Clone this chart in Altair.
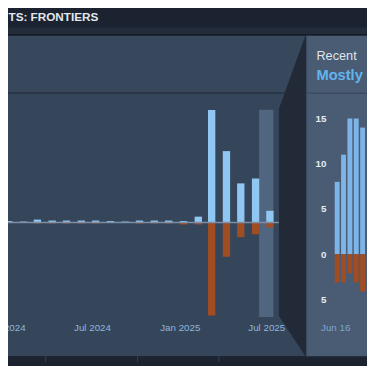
import altair as alt
import pandas as pd

# ---------------- data ----------------
# monthly review histogram (left panel)
months = ["2024-01-01", "2024-02-01", "2024-03-01", "2024-04-01", "2024-05-01",
          "2024-06-01", "2024-07-01", "2024-08-01", "2024-09-01", "2024-10-01",
          "2024-11-01", "2024-12-01", "2025-01-01", "2025-02-01", "2025-03-01",
          "2025-04-01", "2025-05-01", "2025-06-01", "2025-07-01"]
monthly_up = [1.5, 1, 3, 2, 2, 2, 2, 1.5, 1, 2, 2, 2, 1.5, 6, 115, 73, 40, 45, 12]
monthly_down = [0, 0, 1, 1, 1, 1, 1, 0, 0, 1, 1, 1, 2, 2, 95, 35, 15, 12, 5]
axis_months = ["2024-01-01", "2024-07-01", "2025-01-01", "2025-07-01"]

# recent daily reviews (right panel)
recent_days = ["2025-06-16", "2025-06-17", "2025-06-18", "2025-06-19", "2025-06-20"]
recent_up = [8, 11, 15, 15, 14]
recent_down = [3, 3, 2, 3, 4]
recent_ticks = [-5, 0, 5, 10, 15]
recent_end = "2025-07-16"

title_text = "TS: FRONTIERS"
recent_label = "Recent"
recent_rating = "Mostly"


def dt(s):
    y, m, d = map(int, s.split("-"))
    return alt.DateTime(year=y, month=m, date=d, utc=True)


one = pd.DataFrame({"k": [0]})


def box(x1, x2, y1, y2, color):
    return alt.Chart(one).mark_rect(color=color, strokeWidth=0).encode(
        x=alt.value(x1), x2=alt.value(x2), y=alt.value(y1), y2=alt.value(y2))


# ---------------- decoration ----------------
decor = [
    box(-8, 367, 16, 22.5, "#232c3a"),
    box(-8, 367, 22.5, 24.5, "#161b25"),
    box(-8, 310, 24.5, 82, "#37475c"),
    box(-8, 310, 82, 83.5, "#2a3444"),
    box(-8, 310, 83.5, 352, "#35455a"),
    box(-8, 367, 352, 358, "#1d2330"),
    box(38, 39, 352, 358, "#34425a"),
    box(132, 133, 352, 358, "#34425a"),
    box(215, 216, 352, 358, "#34425a"),
]

# ---------------- left chart ----------------
left_df = pd.DataFrame({"month": months, "up": monthly_up, "down": monthly_down})

x_left = alt.X(
    "month:T",
    scale=alt.Scale(type="utc", domain=[dt(months[0]), dt(months[-1])], range=[-8, 269]),
    axis=alt.Axis(orient="bottom", offset=-40.5, values=[dt(m) for m in axis_months],
                  format="%b %Y", labelColor="#8fb6dc", labelFontSize=10, labelFont="Arial",
                  domain=False, ticks=False, grid=False, labelPadding=0, title=None,
                  labelFlush=False, labelOverlap=False, zindex=1),
)
y_left_scale = alt.Scale(domain=[0, 100], range=[215.3, 115.3], nice=False, zero=False)

highlight = alt.Chart(one).mark_rect(color="#4f6580", strokeWidth=0).encode(
    x=alt.XDatum(dt(recent_days[0]), type="temporal"),
    x2=alt.X2Datum(dt(recent_end)),
    y=alt.value(100), y2=alt.value(312))

left_up = alt.Chart(left_df).mark_bar(width=7.5, xOffset=3.75, color="#8fc7f2").encode(
    x=x_left,
    y=alt.Y("up:Q", scale=y_left_scale, axis=None),
    y2=alt.datum(0))

left_down = alt.Chart(left_df).transform_calculate(neg="-datum.down").mark_bar(
    width=7.5, xOffset=3.75, color="#a14d24").encode(
    x=alt.X("month:T"),
    y=alt.Y("neg:Q", axis=None),
    y2=alt.datum(0))

zero_rule = alt.Chart(one).mark_rule(color="#7c8fa6", strokeWidth=1.6).encode(
    y=alt.YDatum(0, type="quantitative"), x=alt.value(-8), x2=alt.value(277))

left = alt.layer(highlight, left_up, left_down, zero_rule)

# ---------------- connector ----------------
dark = alt.Chart(one).mark_point(
    shape="M304,24L306,24L306,352L304,352L277,311L277,99Z",
    size=4, filled=True, color="#222937", strokeWidth=0, opacity=1).encode(
    x=alt.value(0), y=alt.value(0))

# ---------------- right panel ----------------
right_bg = [
    box(305, 367, 24.5, 352, "#4a5b74"),
    box(305, 367, 82.5, 84, "#3d4b60"),
    box(305, 306, 24.5, 352, "#3f4e64"),
]

right_df = pd.DataFrame({"day": recent_days, "up": recent_up, "down": recent_down})

x_right = alt.X(
    "day:T",
    scale=alt.Scale(type="utc", domain=[dt(recent_days[0]), dt(recent_days[-1])],
                    range=[331.5, 367.5]),
    axis=alt.Axis(orient="bottom", offset=-40.5, values=[dt(recent_days[0])],
                  format="%b %d", labelColor="#7fa6cc", labelFontSize=10, labelFont="Arial",
                  labelOffset=-2, domain=False, ticks=False, grid=False, labelPadding=0,
                  title=None, labelFlush=False, labelOverlap=False, zindex=1),
)
y_right_scale = alt.Scale(domain=[-5, 15], range=[294, 109], nice=False, zero=False)

right_up = alt.Chart(right_df).mark_bar(width=5, color="#7db5e8").encode(
    x=x_right,
    y=alt.Y("up:Q", scale=y_right_scale,
            axis=alt.Axis(orient="left", offset=-325, values=recent_ticks,
                          labelExpr="'' + abs(datum.value)", labelColor="#e6ebf0",
                          labelFontSize=10, labelFontWeight="bold", labelFont="Arial",
                          domain=False, ticks=False, grid=False, labelPadding=0,
                          title=None, zindex=1)),
    y2=alt.datum(0))

right_down = alt.Chart(right_df).transform_calculate(neg="-datum.down").mark_bar(
    width=5, color="#a14d24", yOffset=1).encode(
    x=alt.X("day:T"),
    y=alt.Y("neg:Q"),
    y2=alt.datum(0))

right = alt.layer(right_up, right_down)

# ---------------- texts ----------------
texts = [
    alt.Chart(one).mark_text(text=title_text, align="left", baseline="alphabetic",
                             font="Arial", fontSize=12, fontWeight="bold",
                             color="#e3e7ec").encode(x=alt.value(0.5), y=alt.value(9)),
    alt.Chart(one).mark_text(text=recent_label, align="left", baseline="alphabetic",
                             font="Arial", fontSize=13, color="#dfe4e9").encode(
        x=alt.value(315.3), y=alt.value(49)),
    alt.Chart(one).mark_text(text=recent_rating, align="left", baseline="alphabetic",
                             font="Arial", fontSize=15, fontWeight="bold",
                             color="#62b4ef").encode(x=alt.value(315.3), y=alt.value(69.5)),
]

chart = alt.layer(*decor, left, dark, *right_bg, right, *texts).resolve_scale(
    x="independent", y="independent"
).properties(
    width=367, height=358, padding=0,
    autosize=alt.AutoSizeParams(type="none"),
    background="#1b2230",
).configure_view(stroke=None)

chart.save("out.html", embed_options={"renderer": "svg", "actions": False})
